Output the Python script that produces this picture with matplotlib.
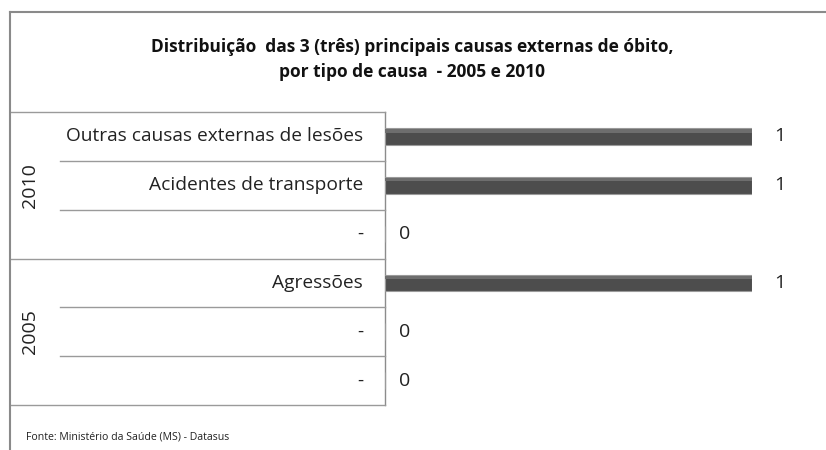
import numpy as np
import matplotlib.pyplot as plt
from matplotlib.lines import Line2D
import matplotlib.transforms as mtransforms

plt.rcParams['font.family'] = ['Open Sans', 'DejaVu Sans']

# data, top row first
years = ['2010', '2005']
causes = ['Outras causas externas de lesões', 'Acidentes de transporte', '-',
          'Agressões', '-', '-']
values = [1, 1, 0, 1, 0, 0]
rows_per_year = 3

W, H = 826, 450
fig = plt.figure(figsize=(W / 100, H / 100), dpi=100)

# plot area: x from the category table edge to where value 1 ends
ax = fig.add_axes([385 / W, 1 - 405 / H, (752 - 385) / W, (405 - 112) / H])
n = len(causes)
y = np.arange(n)
ax.barh(y, values, height=0.34, color='#4d4d4d', edgecolor='#9a9a9a', linewidth=0.8, zorder=3)
# lighter band on the top of the bars
ax.barh(y - 0.115, values, height=0.07, color='#6e6e6e', linewidth=0, zorder=4)
ax.set_xlim(0, 1)
ax.set_ylim(n - 0.5, -0.5)
ax.set_xticks([])
ax.set_yticks([])
for s in ['top', 'right', 'bottom']:
    ax.spines[s].set_visible(False)
ax.spines['left'].set_color('#8c8c8c')
ax.spines['left'].set_linewidth(1.0)

for yi, v in zip(y, values):
    ax.text(v + 0.054 + 0.022 * v, yi, str(v), va='center', ha='center',
            fontsize=14, color='#222222', clip_on=False)

# category table
tr = mtransforms.blended_transform_factory(fig.transFigure, ax.transData)
for yi, c in zip(y, causes):
    ax.text(363 / W, yi, c, transform=tr, ha='right', va='center', fontsize=13.8, color='#222222')
for k in range(n + 1):
    yb = k - 0.5
    x0 = 11 / W if k % rows_per_year == 0 else 60 / W
    fig.add_artist(Line2D([x0, 385 / W], [yb, yb], transform=tr, color='#9a9a9a', lw=1.0))
for i, yr in enumerate(years):
    yc = i * rows_per_year + (rows_per_year - 1) / 2
    ax.text(30 / W, yc, yr, transform=tr, rotation=90, ha='center', va='center',
            fontsize=14, color='#222222')

# chart frame
fig.add_artist(Line2D([10 / W, 10 / W], [0, 1 - 12 / H], transform=fig.transFigure, color='#8a8a8a', lw=1.5))
fig.add_artist(Line2D([10 / W, 1], [1 - 12 / H, 1 - 12 / H], transform=fig.transFigure, color='#8a8a8a', lw=1.5))

fig.text(412 / W, 1 - 59.5 / H, 'Distribuição  das 3 (três) principais causas externas de óbito,\npor tipo de causa  - 2005 e 2010',
         ha='center', va='center', fontsize=12.5, fontweight='bold', linespacing=1.55, color='#111111')
fig.text(26 / W, 1 - 437 / H, 'Fonte: Ministério da Saúde (MS) - Datasus', ha='left', va='center',
         fontsize=7.6, color='#222222')

fig.savefig('out.png', dpi=100, facecolor='white')
